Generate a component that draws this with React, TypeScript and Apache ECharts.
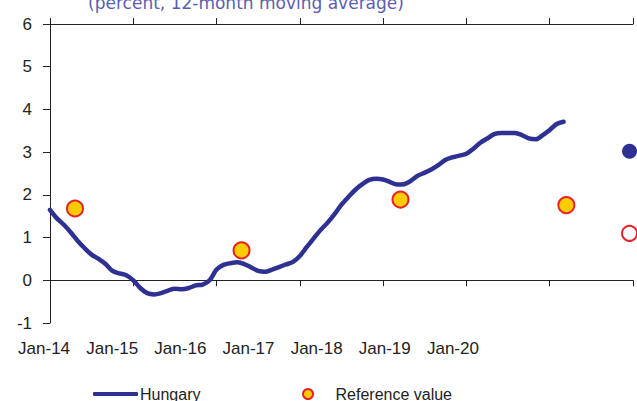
import React, { useEffect, useRef } from "react";
import * as echarts from "echarts";

// Monthly 12-month moving average inflation, Jan-14 .. Mar-20
const hungaryValues: number[] = [
  1.65, 1.45, 1.3, 1.12, 0.92, 0.75, 0.6, 0.5, 0.38, 0.22, 0.16, 0.12,
  0.0, -0.18, -0.3, -0.33, -0.3, -0.24, -0.2, -0.21, -0.18, -0.12, -0.1, 0.0,
  0.25, 0.36, 0.4, 0.42, 0.38, 0.3, 0.22, 0.2, 0.25, 0.31, 0.37, 0.43,
  0.57, 0.78, 0.98, 1.18, 1.35, 1.55, 1.77, 1.95, 2.12, 2.25, 2.35, 2.38,
  2.36, 2.3, 2.24, 2.25, 2.33, 2.45, 2.52, 2.6, 2.7, 2.82, 2.88, 2.92,
  2.96, 3.08, 3.22, 3.32, 3.42, 3.45, 3.45, 3.45, 3.4, 3.32, 3.3, 3.4,
  3.52, 3.66, 3.71,
];

// Reference values (months since Jan-14, percent)
const refMonths: number[] = [3.6, 27.6, 50.5, 74.4];
const refValues: number[] = [1.68, 0.7, 1.89, 1.76];

// Latest markers
const latestRefMonth = 83.5;
const latestRefValue = 1.1;
const hungaryLatestMonth = 83.5;
const hungaryLatestValue = 3.02;

const xTickLabels: string[] = ["Jan-14", "Jan-15", "Jan-16", "Jan-17", "Jan-18", "Jan-19", "Jan-20"];

const titleText = "(percent, 12-month moving average)";

const NAVY = "#2e3192";
const YELLOW = "#ffcc00";
const RED = "#e62129";

export default function App() {
  const ref = useRef<HTMLDivElement>(null);

  useEffect(() => {
    if (!ref.current) return;
    const chart = echarts.init(ref.current, undefined, { renderer: "svg" });

    const hungaryData = hungaryValues.map((v, i) => [i, v]);
    const refData = refMonths.map((m, i) => [m, refValues[i]]);

    const option: any = {
      animation: false,
      backgroundColor: "#ffffff",
      textStyle: { fontFamily: "Liberation Sans" },
      graphic: [
        {
          type: "text",
          x: 246,
          y: 3,
          style: {
            text: titleText,
            fill: "#5a5eb0",
            font: "17px 'DejaVu Sans'",
            textAlign: "center",
            textVerticalAlign: "middle",
          },
        },
      ],
      grid: [
        { left: 50, right: 4, top: 24, bottom: 78, containLabel: false },
        { left: 10, width: 477, top: 300, height: 30, containLabel: false },
      ],
      xAxis: [
        {
          type: "value",
          gridIndex: 0,
          min: 0,
          max: 84,
          interval: 12,
          position: "bottom",
          axisLine: { show: true, onZero: true, lineStyle: { color: "#222", width: 1 } },
          axisTick: { show: true, length: 6, lineStyle: { color: "#222" } },
          axisLabel: { show: false },
          splitLine: { show: false },
        },
        {
          type: "value",
          gridIndex: 0,
          min: 0,
          max: 84,
          interval: 12,
          position: "top",
          axisLine: { show: true, onZero: true, lineStyle: { color: "#222", width: 1 } },
          axisTick: { show: true, length: 6, lineStyle: { color: "#222" } },
          axisLabel: { show: false },
          splitLine: { show: false },
        },
        {
          type: "category",
          gridIndex: 1,
          data: xTickLabels,
          boundaryGap: true,
          axisLine: { show: false },
          axisTick: { show: false },
          axisLabel: { show: true, color: "#222", fontSize: 17, margin: 10, fontFamily: "Liberation Sans" },
        },
      ],
      yAxis: [
        {
          type: "value",
          gridIndex: 0,
          min: -1,
          max: 6,
          interval: 1,
          axisLine: { show: true, lineStyle: { color: "#222", width: 1 } },
          axisTick: { show: true, length: 7, lineStyle: { color: "#222" } },
          axisLabel: { color: "#222", fontSize: 17, margin: 18, fontFamily: "Liberation Sans" },
          splitLine: { show: false },
        },
        {
          type: "value",
          gridIndex: 1,
          show: false,
        },
      ],
      legend: [
        {
          data: [{ name: "Hungary", icon: "roundRect" }],
          left: 93,
          top: 386,
          padding: 0,
          itemWidth: 45,
          itemHeight: 4,
          symbolKeepAspect: false,
          itemStyle: { color: NAVY },
          lineStyle: { width: 0 },
          textStyle: { color: "#222", fontSize: 16, fontFamily: "Liberation Sans", padding: [0, 0, 0, -3] },
        },
        {
          data: [{ name: "Reference value", icon: "circle" }],
          left: 302,
          top: 386,
          padding: 0,
          itemWidth: 45,
          itemHeight: 10,
          itemStyle: { borderWidth: 2 },
          textStyle: { color: "#222", fontSize: 16, fontFamily: "Liberation Sans" },
        },
      ],
      series: [
        {
          name: "Hungary",
          type: "line",
          xAxisIndex: 0,
          yAxisIndex: 0,
          data: hungaryData,
          showSymbol: false,
          symbol: "none",
          smooth: 0.3,
          lineStyle: { color: NAVY, width: 4.5, cap: "round", join: "round" },
          itemStyle: { color: NAVY },
          z: 2,
        },
        {
          name: "Reference value",
          type: "scatter",
          xAxisIndex: 0,
          yAxisIndex: 0,
          data: refData,
          symbol: "circle",
          symbolSize: 16,
          clip: false,
          itemStyle: { color: YELLOW, borderColor: RED, borderWidth: 2, opacity: 1 },
          z: 3,
        },
        {
          name: "Latest reference",
          type: "scatter",
          xAxisIndex: 0,
          yAxisIndex: 0,
          data: [[latestRefMonth, latestRefValue]],
          symbol: "circle",
          symbolSize: 15,
          clip: false,
          itemStyle: { color: "#ffffff", borderColor: RED, borderWidth: 2, opacity: 1 },
          z: 3,
        },
        {
          name: "Hungary latest",
          type: "scatter",
          xAxisIndex: 0,
          yAxisIndex: 0,
          data: [[hungaryLatestMonth, hungaryLatestValue]],
          symbol: "circle",
          symbolSize: 15,
          clip: false,
          itemStyle: { color: NAVY, opacity: 1 },
          z: 3,
        },
      ],
    };

    chart.setOption(option);
    return () => {
      chart.dispose();
    };
  }, []);

  return (
    <div
      ref={ref}
      style={{ position: "fixed", left: 0, top: 0, width: 637, height: 401, background: "#fff" }}
    />
  );
}
